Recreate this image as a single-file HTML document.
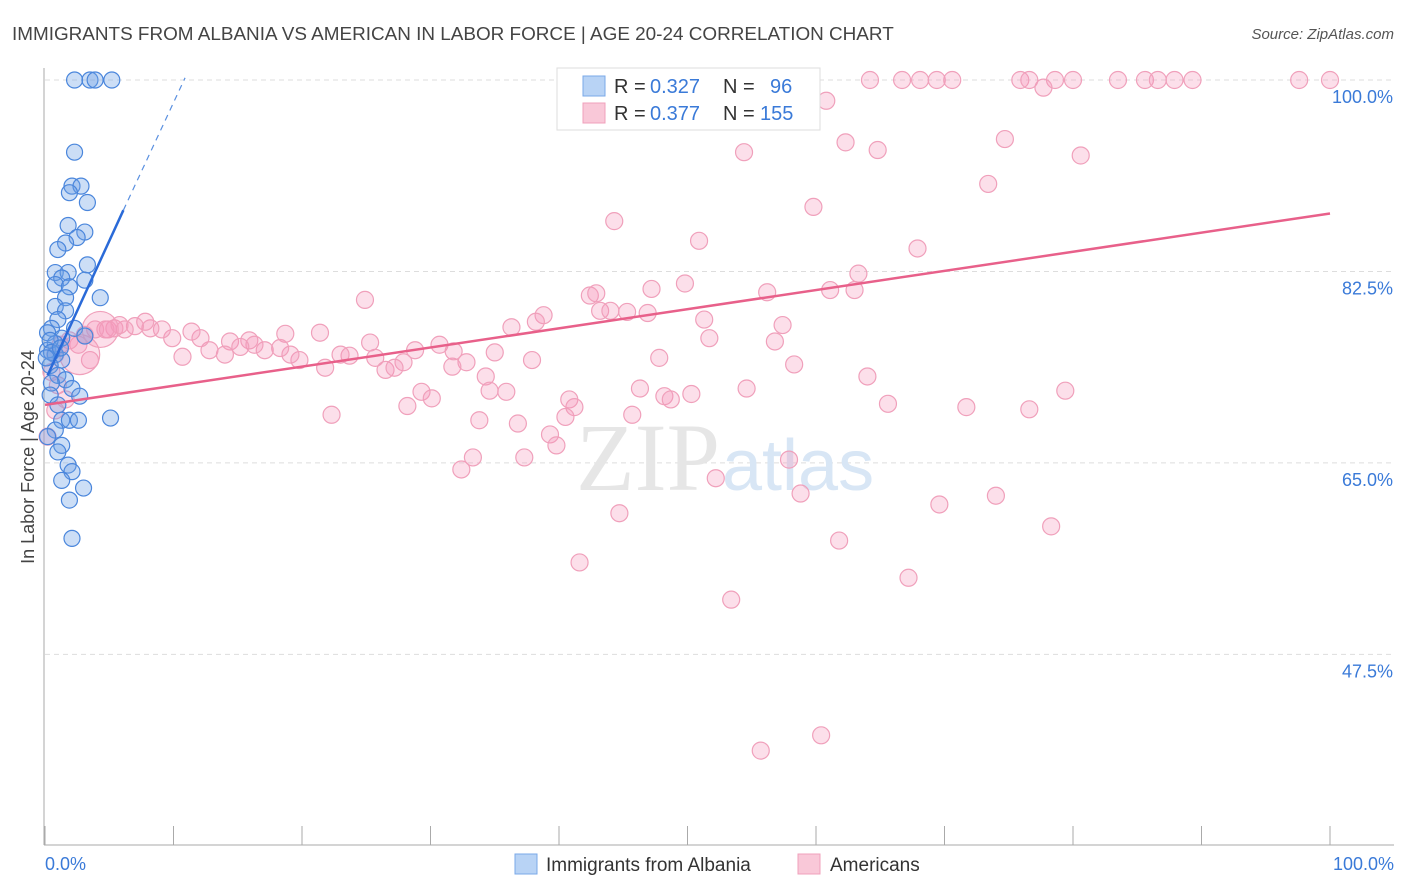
<!DOCTYPE html>
<html><head><meta charset="utf-8"><style>
body{margin:0;background:#fff;font-family:"Liberation Sans",sans-serif;}
svg{display:block}
</style></head><body>
<svg width="1406" height="892">
<text x="12" y="40" font-size="18.9" fill="#444">IMMIGRANTS FROM ALBANIA VS AMERICAN IN LABOR FORCE | AGE 20-24 CORRELATION CHART</text>
<text x="1394" y="39" font-size="15" fill="#555" font-style="italic" text-anchor="end">Source: ZipAtlas.com</text>
<g id="grid"></g>
<text x="720" y="490" font-size="96" fill="#e6e6e6" text-anchor="end" font-family="Liberation Serif">ZIP</text>
<text x="722" y="490" font-size="72" fill="#d8e6f5">atlas</text>
<g id="marks"></g>
<text transform="translate(34,457) rotate(-90)" font-size="18" fill="#444" text-anchor="middle">In Labor Force | Age 20-24</text>
<text x="45" y="870" font-size="18" fill="#3a7ad8">0.0%</text>
<text x="1394" y="870" font-size="18" fill="#3a7ad8" text-anchor="end">100.0%</text>
<g>
<rect x="557" y="68" width="263" height="62" fill="#fff" stroke="#ddd"/>
<rect x="583" y="76" width="22" height="20" fill="#b8d3f5" stroke="#7aa8e8"/>
<rect x="583" y="103" width="22" height="20" fill="#f9c8d8" stroke="#f0a0bb"/>
<text x="614" y="93" font-size="20" fill="#333">R =</text>
<text x="650" y="93" font-size="20" fill="#3a7ad8">0.327</text>
<text x="723" y="93" font-size="20" fill="#333">N =</text>
<text x="770" y="93" font-size="20" fill="#3a7ad8">96</text>
<text x="614" y="120" font-size="20" fill="#333">R =</text>
<text x="650" y="120" font-size="20" fill="#3a7ad8">0.377</text>
<text x="723" y="120" font-size="20" fill="#333">N =</text>
<text x="760" y="120" font-size="20" fill="#3a7ad8">155</text>
</g>
<g>
<rect x="515" y="854" width="22" height="20" fill="#b8d3f5" stroke="#7aa8e8"/>
<text x="546" y="871" font-size="19" fill="#333">Immigrants from Albania</text>
<rect x="798" y="854" width="22" height="20" fill="#f9c8d8" stroke="#f0a0bb"/>
<text x="830" y="871" font-size="19" fill="#333">Americans</text>
</g>
</svg>
<script>
const yTicks=[100,82.5,65,47.5];
const yTickLabels=["100.0%","82.5%","65.0%","47.5%"];
const xTicks=[0,10,20,30,40,50,60,70,80,90,100];
const blueX=[2.3,3.5,3.9,5.2,2.3,2.1,2.8,1.9,3.3,1.8,3.1,2.5,1.6,1.0,3.3,0.8,1.8,1.3,3.1,0.8,1.9,1.6,4.3,0.8,1.6,1.0,0.5,2.3,0.2,1.3,0.8,3.1,0.2,0.8,1.3,0.4,1.0,1.6,0.5,2.1,2.7,0.4,1.0,1.3,1.9,2.6,5.1,0.8,0.2,1.3,1.0,1.8,2.1,1.3,3.0,1.9,2.1,0.4,0.5,0.1,1.2];
const blueY=[100,100,100,100,93.4,90.3,90.3,89.7,88.8,86.7,86.1,85.6,85.1,84.5,83.1,82.4,82.4,81.9,81.7,81.3,81.1,80.1,80.1,79.3,78.9,78.1,77.3,77.3,76.9,76.4,75.9,76.6,75.3,74.9,74.4,73.9,73.0,72.6,72.3,71.8,71.1,71.2,70.3,68.9,68.9,68.9,69.1,68.0,67.4,66.6,66.0,64.8,64.2,63.4,62.7,61.6,58.1,76.2,75.1,74.6,75.5];
const pinkX=[53.8,64.2,66.7,68.1,69.4,70.6,75.9,76.6,78.6,80.0,83.5,85.6,86.6,87.9,89.3,97.6,100,77.7,60.8,74.7,62.3,64.8,54.4,80.6,73.4,59.8,44.3,50.9,67.9,63.3,49.8,47.2,42.4,42.9,56.2,61.1,63.0,43.2,44.0,45.3,46.9,24.9,38.8,38.2,51.3,36.3,57.4,51.7,56.8,21.4,18.7,15.9,14.4,47.8,58.3,64.0,46.3,34.3,35.0,37.9,32.8,31.7,30.7,31.8,28.8,27.9,25.7,25.3,23.7,23.0,21.8,19.8,19.1,18.3,17.1,16.3,15.2,14.0,12.8,12.1,11.4,10.7,9.9,9.1,8.2,7.8,7.0,6.2,5.4,4.7,3.9,3.1,2.6,1.9,1.2,0.8,0.5,1.0,0.8,1.6,0.2,26.5,27.2,29.3,30.1,28.2,34.6,35.9,22.3,33.8,36.8,40.8,41.2,40.5,39.3,39.8,33.3,32.4,37.3,45.7,48.2,48.7,50.3,54.6,65.6,71.7,76.6,79.4,52.2,57.9,58.8,44.7,69.6,74.0,78.3,61.8,41.6,67.2,53.4,60.4,55.7,4.9,5.8,3.5,2.7,4.3];
const pinkY=[100,100,100,100,100,100,100,100,100,100,100,100,100,100,100,100,100,99.3,98.1,94.6,94.3,93.6,93.4,93.1,90.5,88.4,87.1,85.3,84.6,82.3,81.4,80.9,80.3,80.5,80.6,80.8,80.8,78.9,78.9,78.8,78.7,79.9,78.5,77.9,78.1,77.4,77.6,76.4,76.1,76.9,76.8,76.2,76.1,74.6,74.0,72.9,71.8,72.9,75.1,74.4,74.2,73.8,75.8,75.2,75.3,74.2,74.6,76.0,74.8,74.9,73.7,74.4,74.9,75.5,75.3,75.8,75.6,74.9,75.3,76.4,77.0,74.7,76.4,77.2,77.3,77.9,77.5,77.2,77.3,77.2,77.2,76.7,75.8,76.2,75.8,74.9,73.3,72.1,69.8,70.8,67.4,73.5,73.7,71.5,70.9,70.2,71.6,71.5,69.4,68.9,68.6,70.8,70.1,69.2,67.6,66.6,65.5,64.4,65.5,69.4,71.1,70.8,71.3,71.8,70.4,70.1,69.9,71.6,63.6,65.3,62.2,60.4,61.2,62.0,59.2,57.9,55.9,54.5,52.5,40.1,38.7,77.2,77.6,74.4,74.9,77.2];
const pinkSize=[];pinkX.forEach((v,i)=>pinkSize.push(i>=pinkX.length-2?(i==pinkX.length-2?20:18):8.5));
const pinkTrend=[70.3,87.8];
const blueTrend=[[0.2,73.0],[6.1,88.1],[10.9,100.2]];
const X=v=>45+v*12.85, Y=v=>80+(100-v)*10.94;
const NS="http://www.w3.org/2000/svg";
function mk(t,a,p){const e=document.createElementNS(NS,t);for(const k in a)e.setAttribute(k,a[k]);p.appendChild(e);return e;}
const g=document.getElementById('grid'), m=document.getElementById('marks');
yTicks.forEach((t,i)=>{
 const l=mk('line',{x1:45,x2:1394,y1:Y(t),y2:Y(t),stroke:'#ddd','stroke-dasharray':'5,4'},g);
 
 
 const tx=mk('text',{x:1393,y:Y(t)+23,'font-size':18,fill:'#3a7ad8','text-anchor':'end'},g);
 tx.textContent=yTickLabels[i];
 
 
});
const ax=mk('line',{x1:44,x2:44,y1:68,y2:845,stroke:'#aaa'},g);


const bx=mk('line',{x1:44,x2:1394,y1:845,y2:845,stroke:'#aaa'},g);


xTicks.forEach(t=>{const l=mk('line',{x1:X(t),x2:X(t),y1:826,y2:845,stroke:'#aaa'},g);
 
 });
pinkX.forEach((v,i)=>{const c=mk('circle',{cx:X(v),cy:Y(pinkY[i]),r:pinkSize[i],fill:'rgba(244,150,185,0.3)',stroke:'#f0a0bb','stroke-width':1.2},m);
 
 });
blueX.forEach((v,i)=>{const c=mk('circle',{cx:X(v),cy:Y(blueY[i]),r:8,fill:'rgba(110,160,230,0.35)',stroke:'#4a86dc','stroke-width':1.2},m);
 
 });
const pl=mk('line',{x1:X(0),y1:Y(pinkTrend[0]),x2:X(100),y2:Y(pinkTrend[1]),stroke:'#e8608a','stroke-width':2.5},m);


const bl=mk('line',{x1:X(blueTrend[0][0]),y1:Y(blueTrend[0][1]),x2:X(blueTrend[1][0]),y2:Y(blueTrend[1][1]),stroke:'#2a6ad8','stroke-width':2.5},m);


const bd=mk('line',{x1:X(blueTrend[1][0]),y1:Y(blueTrend[1][1]),x2:X(blueTrend[2][0]),y2:Y(blueTrend[2][1]),stroke:'#5a90e0','stroke-width':1.2,'stroke-dasharray':'6,5'},m);


</script>
</body></html>
